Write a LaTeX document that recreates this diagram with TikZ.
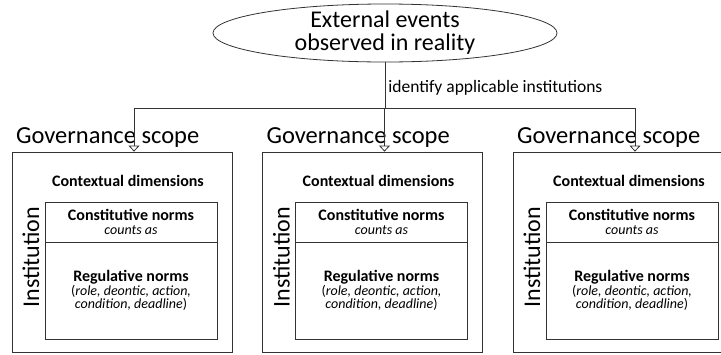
\documentclass[tikz,border=0pt]{standalone}
\usepackage{fontspec}
\setmainfont{Carlito}
\usetikzlibrary{arrows.meta,shapes.geometric}

\begin{document}
\begin{tikzpicture}[
             x                = 1pt,
             y                = -1pt,
             line/.style      = {draw=black!80, line width=0.8pt},
             drop/.style      = {line, -{Triangle[open, length=6pt, width=11pt]}},
             event/.style     = {line, ellipse, minimum width=344pt, minimum height=58pt,
                                 inner sep=-6pt, align=center,
                                 font=\fontsize{24}{23}\selectfont},
             scope/.style     = {line, rectangle, minimum width=220pt, minimum height=200pt},
             normbox/.style   = {line, rectangle, minimum width=172pt, align=center},
             title/.style     = {font=\fontsize{24.5}{28}\selectfont},
             context/.style   = {font=\fontsize{16}{18}\selectfont\bfseries}]
             \useasboundingbox (0,0) rectangle (721,354);
             \clip (0,0) rectangle (721,354);

             \node [event] (events) at (385,33) {External events\\observed in reality};
             \coordinate (bus) at (0,108);

             % three governance scopes, each holding one institution
             \node [scope] (scope1) at (122,252) {};
             \node [scope] (scope2) at (372.5,252) {};
             \node [scope] (scope3) at (623,252) {};
             \node [title, anchor=base west] (title1) at ([xshift=1pt, yshift=8pt]scope1.north west) {Governance scope};
             \node [title, anchor=base west] (title2) at ([xshift=1pt, yshift=8pt]scope2.north west) {Governance scope};
             \node [title, anchor=base west] (title3) at ([xshift=1pt, yshift=8pt]scope3.north west) {Governance scope};

             \coordinate (drop1) at ([xshift=12pt]scope1.north);
             \coordinate (drop2) at ([xshift=12pt]scope2.north);
             \coordinate (drop3) at ([xshift=12pt]scope3.north);

             \draw [line] (events.south) -- (events.south |- bus)
                    node [pos=0.55, anchor=west, inner sep=3pt, font=\fontsize{17.5}{20}\selectfont] (label) {identify applicable institutions};
             \draw [line] (drop1 |- bus) -- (drop3 |- bus);
             \draw [drop] (drop1 |- bus) -- (drop1);
             \draw [drop] (drop2 |- bus) -- (drop2);
             \draw [drop] (drop3 |- bus) -- (drop3);

             % institution contents
             \foreach \s/\cx in {1/122, 2/372.5, 3/623} {
               \node [context] (ctx\s) at (\cx+6,181) {Contextual dimensions};
               \node [rotate=90, font=\fontsize{24}{28}\selectfont] (inst\s) at (\cx-91,257) {Institution};
               \node [normbox, minimum height=40pt] (const\s) at (\cx+9,222)
                      {{\fontsize{16}{15}\selectfont\bfseries Constitutive norms}\\[2pt]
                       {\fontsize{14}{16}\selectfont\itshape counts as}};
               \node [normbox, minimum height=97pt] (reg\s) at (\cx+9,290.5)
                      {{\fontsize{16}{16}\selectfont\bfseries Regulative norms}\\
                       {\fontsize{14}{15}\selectfont(\textit{role, deontic, action,}}\\
                       {\fontsize{14}{15}\selectfont\textit{condition, deadline})}};
             }
    \end{tikzpicture}
\end{document}
